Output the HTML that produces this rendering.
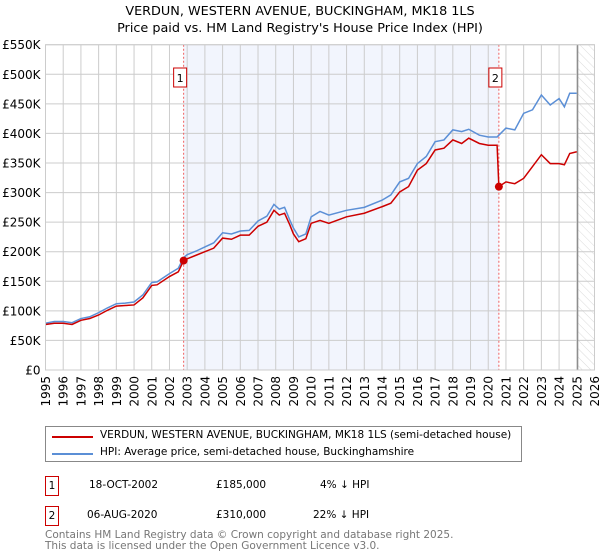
<!DOCTYPE html>
<html><head><meta charset="utf-8">
<style>
body{margin:0;background:#fff;font-family:"DejaVu Sans","Liberation Sans",sans-serif;}
#wrap{position:relative;width:600px;height:560px;overflow:hidden}
.t{position:absolute;white-space:nowrap;color:#000}
</style></head><body>
<div id="wrap">
<svg id="svg" width="600" height="560" style="position:absolute;left:0;top:0">
<defs><pattern id="hatch" width="6" height="6" patternUnits="userSpaceOnUse" patternTransform="rotate(-45)"><line x1="0" y1="0" x2="0" y2="6" stroke="#ccc" stroke-width="0.7"/></pattern></defs>
<text x="300" y="15" text-anchor="middle" font-size="12.8" font-family="DejaVu Sans,sans-serif">VERDUN, WESTERN AVENUE, BUCKINGHAM, MK18 1LS</text>
<text x="300" y="32" text-anchor="middle" font-size="12.8" font-family="DejaVu Sans,sans-serif">Price paid vs. HM Land Registry's House Price Index (HPI)</text>
<g id="plot"></g>
</svg>
<div class="t" style="left:45px;top:426px;width:477px;height:36px;border:1px solid #888;box-sizing:border-box">
 <div style="position:absolute;left:6px;top:9px;width:41px;height:2px;background:#cc0000"></div>
 <div class="t" style="left:54px;top:2px;font-size:10.5px">VERDUN, WESTERN AVENUE, BUCKINGHAM, MK18 1LS (semi-detached house)</div>
 <div style="position:absolute;left:6px;top:26px;width:41px;height:2px;background:#5b8fd6"></div>
 <div class="t" style="left:54px;top:19px;font-size:10.5px">HPI: Average price, semi-detached house, Buckinghamshire</div>
</div>
<div class="t" style="left:45px;top:476px;width:14px;height:20px;border:1px solid #cc0000;box-sizing:border-box;font-size:10.5px;text-align:center;line-height:18px">1</div>
<div class="t" style="left:89px;top:476px;font-size:10.5px;line-height:18px">18-OCT-2002</div>
<div class="t" style="left:216px;top:476px;font-size:10.5px;line-height:18px">£185,000</div>
<div class="t" style="left:320px;top:476px;font-size:10.5px;line-height:18px">4% ↓ HPI</div>
<div class="t" style="left:45px;top:506px;width:14px;height:20px;border:1px solid #cc0000;box-sizing:border-box;font-size:10.5px;text-align:center;line-height:18px">2</div>
<div class="t" style="left:87px;top:506px;font-size:10.5px;line-height:18px">06-AUG-2020</div>
<div class="t" style="left:216px;top:506px;font-size:10.5px;line-height:18px">£310,000</div>
<div class="t" style="left:313px;top:506px;font-size:10.5px;line-height:18px">22% ↓ HPI</div>
<div class="t" style="left:45px;top:530px;font-size:10.5px;color:#777;line-height:11px">Contains HM Land Registry data © Crown copyright and database right 2025.<br>This data is licensed under the Open Government Licence v3.0.</div>
</div>
<script>
const years=[1995,1996,1997,1998,1999,2000,2001,2002,2003,2004,2005,2006,2007,2008,2009,2010,2011,2012,2013,2014,2015,2016,2017,2018,2019,2020,2021,2022,2023,2024,2025,2026];
const yTicks=[0,50000,100000,150000,200000,250000,300000,350000,400000,450000,500000,550000];
const yTickLabels=["£0","£50K","£100K","£150K","£200K","£250K","£300K","£350K","£400K","£450K","£500K","£550K"];
const hpiDates=[1995,1995.5,1996,1996.5,1997,1997.5,1998,1998.5,1999,1999.5,2000,2000.5,2001,2001.3,2002,2002.5,2002.8,2003,2003.5,2004,2004.5,2005,2005.5,2006,2006.5,2007,2007.5,2007.9,2008.2,2008.5,2008.8,2009,2009.3,2009.7,2010,2010.5,2011,2012,2013,2014,2014.5,2015,2015.5,2016,2016.5,2017,2017.5,2018,2018.5,2018.9,2019.5,2020,2020.5,2021,2021.5,2022,2022.5,2023,2023.5,2024,2024.3,2024.6,2025];
const hpiValues=[79000,82000,82000,80000,87000,90000,97000,105000,112000,113000,115000,127000,148000,149000,163000,172000,190000,195000,201000,208000,215000,232000,230000,235000,236000,252000,260000,280000,272000,275000,253000,240000,225000,230000,259000,268000,262000,270000,275000,287000,296000,318000,324000,349000,361000,386000,389000,406000,403000,407000,397000,394000,394000,409000,406000,434000,440000,465000,448000,459000,445000,468000,468000];
const paidDates=[1995,1995.5,1996,1996.5,1997,1997.5,1998,1998.5,1999,1999.5,2000,2000.5,2001,2001.3,2002,2002.5,2002.8,2003,2003.5,2004,2004.5,2005,2005.5,2006,2006.5,2007,2007.5,2007.9,2008.2,2008.5,2008.8,2009,2009.3,2009.7,2010,2010.5,2011,2012,2013,2014,2014.5,2015,2015.5,2016,2016.5,2017,2017.5,2018,2018.5,2018.9,2019.5,2020,2020.5,2020.6,2021,2021.5,2022,2022.5,2023,2023.5,2024,2024.3,2024.6,2025];
const paidValues=[77000,79000,79000,77000,84000,87000,93000,101000,108000,109000,110000,122000,143000,144000,158000,166000,185000,188000,194000,200000,206000,223000,221000,228000,228000,243000,250000,270000,262000,265000,245000,230000,217000,222000,248000,253000,248000,259000,265000,276000,282000,301000,310000,338000,349000,372000,375000,389000,383000,392000,383000,380000,380000,310000,318000,315000,324000,344000,364000,349000,349000,347000,366000,369000];
const sales=[{n:"1",d:2002.8,v:185000},{n:"2",d:2020.6,v:310000}];
const X0=45.5,X1=594.5,Y0=370,Y1=44.7;
const x=d=>X0+(d-1995)/31*(X1-X0);
const y=v=>Y0-v/550000*(Y0-Y1);
const NS="http://www.w3.org/2000/svg";
const g=document.getElementById('plot');
function mk(t,a,p){const e=document.createElementNS(NS,t);for(const k in a)e.setAttribute(k,a[k]);(p||g).appendChild(e);return e;}
let e;
e=mk('rect',{x:x(sales[0].d),y:Y1,width:x(sales[1].d)-x(sales[0].d),height:Y0-Y1,fill:'#f2f5fd'});


e=mk('rect',{x:x(2025.05),y:Y1,width:X1-x(2025.05),height:Y0-Y1,fill:'url(#hatch)'});


yTicks.forEach((v,i)=>{
 e=mk('line',{x1:X0,x2:X1,y1:y(v),y2:y(v),stroke:'#ccc','stroke-width':1});
 
 
 e=mk('text',{x:X0-5,y:y(v)+4.5,'text-anchor':'end','font-size':'12','font-family':'DejaVu Sans,sans-serif'});
 e.textContent=yTickLabels[i];
 
 
});
years.forEach(yr=>{
 e=mk('line',{x1:x(yr),x2:x(yr),y1:Y1,y2:Y0,stroke:'#ccc','stroke-width':1});
 
 
 const tx=x(yr)+4.5,ty=Y0+6;
 e=mk('text',{x:tx,y:ty,transform:`rotate(-90 ${tx} ${ty})`,'text-anchor':'end','font-size':'12','font-family':'DejaVu Sans,sans-serif'});
 e.textContent=yr;
 
 
});
e=mk('line',{x1:x(2025.05),x2:x(2025.05),y1:Y1,y2:Y0,stroke:'#888','stroke-width':1.2});


sales.forEach(s=>{
 e=mk('line',{x1:x(s.d),x2:x(s.d),y1:Y1,y2:Y0,stroke:'#f06060','stroke-width':1,'stroke-dasharray':'2,2'});
 
 
 e=mk('rect',{x:x(s.d)-10,y:68,width:13,height:19,fill:'#fff',stroke:'#cc0000','stroke-width':1});
 
 
 e=mk('text',{x:x(s.d)-3.5,y:82,'text-anchor':'middle','font-size':'11','font-family':'DejaVu Sans,sans-serif'});
 e.textContent=s.n;
 
 
});
e=mk('polyline',{points:hpiDates.map((d,i)=>x(d)+','+y(hpiValues[i])).join(' '),fill:'none',stroke:'#5b8fd6','stroke-width':1.5});


e=mk('polyline',{points:paidDates.map((d,i)=>x(d)+','+y(paidValues[i])).join(' '),fill:'none',stroke:'#cc0000','stroke-width':1.5});


sales.forEach(s=>{
 e=mk('circle',{cx:x(s.d),cy:y(s.v),r:4,fill:'#cc0000'});
 
 
});
e=mk('rect',{x:X0,y:Y1,width:X1-X0,height:Y0-Y1,fill:'none',stroke:'#ccc'});


</script>
</body></html>
